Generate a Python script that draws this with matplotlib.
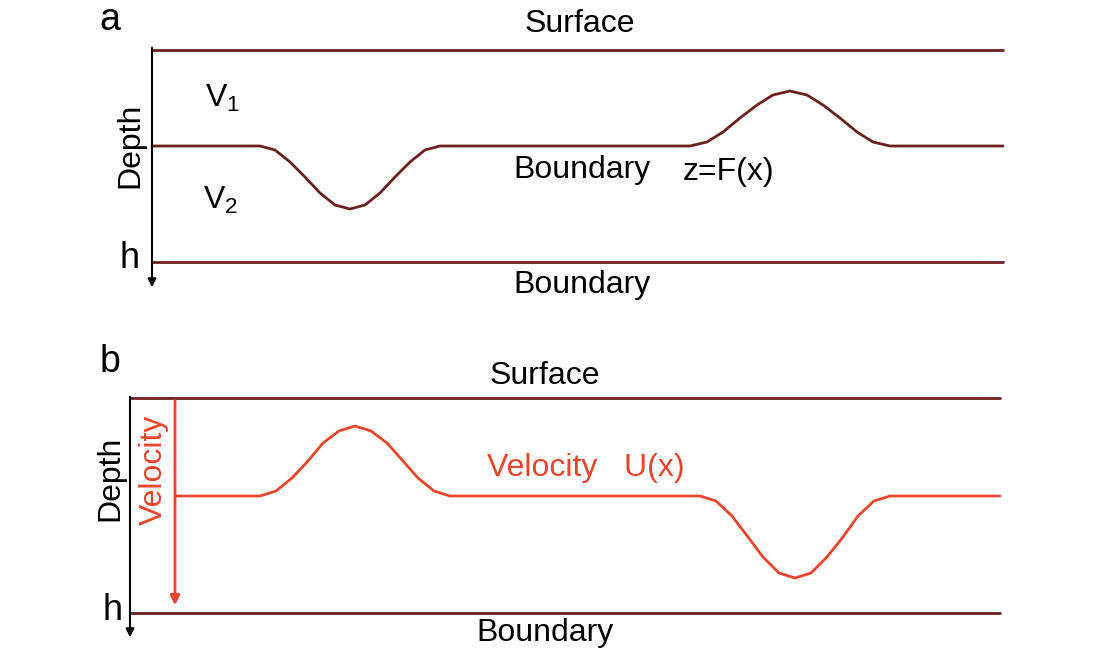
import matplotlib
matplotlib.use("Agg")
import matplotlib.pyplot as plt
import numpy as np

plt.rcParams['font.family'] = ['Liberation Sans', 'DejaVu Sans']
plt.rcParams['mathtext.fontset'] = 'custom'
plt.rcParams['mathtext.rm'] = 'Liberation Sans'

# Panel a: interface z = F(x) (pixel-space diagram coordinates)
a_x = [152, 260, 275, 290, 305, 320, 335, 350, 365, 380, 395, 410, 425, 440,
       690, 707, 723, 740, 757, 773, 790, 807, 823, 840, 857, 873, 890, 1003]
a_y = [146, 146, 150, 162, 177, 193, 205, 209, 205, 193, 177, 162, 150, 146,
       146, 142, 132, 118, 105, 95, 91, 95, 105, 118, 132, 142, 146, 146]
# Panel b: velocity U(x)
b_x = [175, 260, 276, 292, 308, 323, 339, 355, 371, 387, 403, 418, 434, 450,
       700, 716, 732, 748, 763, 779, 795, 811, 827, 843, 858, 874, 890, 1000]
b_y = [496, 496, 491, 478, 461, 443, 431, 426, 431, 443, 461, 478, 491, 496,
       496, 501, 516, 537, 557, 573, 578, 573, 557, 537, 516, 501, 496, 496]

dark = '#6b2020'
red = '#e8452c'

fig = plt.figure(figsize=(11, 6.6), dpi=100)
ax = fig.add_axes([0, 0, 1, 1])
ax.set_xlim(0, 1100)
ax.set_ylim(660, 0)
ax.axis('off')

fs = 23
lk = dict(lw=2, solid_joinstyle='round', solid_capstyle='round')
# ---- panel a
ax.plot([152, 1003], [50, 50], color=dark, **lk)
ax.plot([152, 1003], [262, 262], color=dark, **lk)
ax.plot(a_x, a_y, color=dark, **lk)
ax.annotate('', xy=(152, 290), xytext=(152, 45),
            arrowprops=dict(arrowstyle='-|>', color='black', lw=1.5, mutation_scale=12))
ax.text(110, 20, 'a', fontsize=27, ha='center', va='center')
ax.text(580, 24, 'Surface', fontsize=fs, ha='center', va='center')
ax.text(130, 145, 'Depth', fontsize=fs, rotation=90, ha='center', va='center')
ax.text(130, 258, 'h', fontsize=26, ha='center', va='center')
ax.text(205, 98, 'V$_1$', fontsize=fs, ha='left', va='center')
ax.text(203, 200, 'V$_2$', fontsize=fs, ha='left', va='center')
ax.text(582, 170, 'Boundary', fontsize=fs, ha='center', va='center')
ax.text(683, 172, 'z=F(x)', fontsize=fs, ha='left', va='center')
ax.text(582, 285, 'Boundary', fontsize=fs, ha='center', va='center')

# ---- panel b
ax.plot([130, 1000], [398, 398], color=dark, **lk)
ax.plot([130, 1000], [613, 613], color=dark, **lk)
ax.plot(b_x, b_y, color=red, **lk)
ax.annotate('', xy=(130, 640), xytext=(130, 394),
            arrowprops=dict(arrowstyle='-|>', color='black', lw=1.5, mutation_scale=12))
ax.annotate('', xy=(175, 608), xytext=(175, 398),
            arrowprops=dict(arrowstyle='-|>', color=red, lw=2, mutation_scale=14))
ax.text(110, 362, 'b', fontsize=27, ha='center', va='center')
ax.text(545, 376, 'Surface', fontsize=fs, ha='center', va='center')
ax.text(110, 478, 'Depth', fontsize=fs, rotation=90, ha='center', va='center')
ax.text(154, 470, 'Velocity', fontsize=fs, rotation=90, ha='center', va='center', color=red)
ax.text(113, 610, 'h', fontsize=26, ha='center', va='center')
ax.text(487, 468, 'Velocity   U(x)', fontsize=fs, ha='left', va='center', color=red)
ax.text(545, 633, 'Boundary', fontsize=fs, ha='center', va='center')

fig.savefig('out.png', dpi=100)
